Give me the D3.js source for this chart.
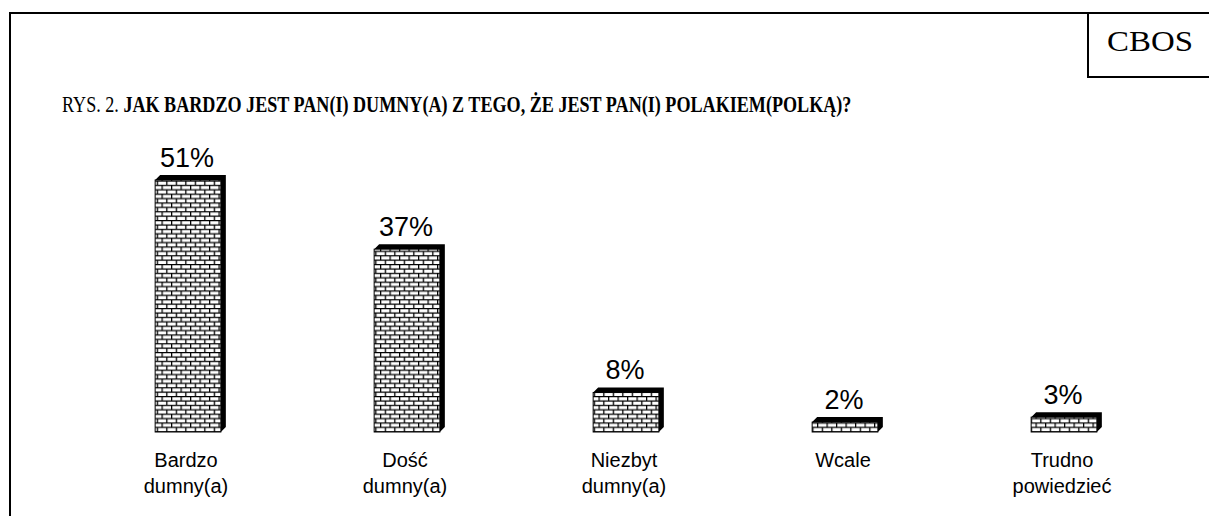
<!DOCTYPE html>
<html>
<head>
<meta charset="utf-8">
<script src="https://cdn.jsdelivr.net/npm/d3@7"></script>
<style>
  html, body { margin: 0; padding: 0; background: #fff; }
  svg { display: block; }
</style>
</head>
<body>
<svg id="chart" width="1209" height="516"></svg>
<script>
const categories = [['Bardzo', 'dumny(a)'], ['Dość', 'dumny(a)'], ['Niezbyt', 'dumny(a)'], ['Wcale'], ['Trudno', 'powiedzieć']];
const values = [51, 37, 8, 2, 3];
const valueLabels = ['51%', '37%', '8%', '2%', '3%'];
const titlePrefix = 'RYS. 2. ';
const titleBold = 'JAK BARDZO JEST PAN(I) DUMNY(A) Z TEGO, ŻE JEST PAN(I) POLAKIEM(POLKĄ)?';

const svg = d3.select('#chart');
const W = 1209;
const depth = 5;
const base = 432;

// brick pattern for the bar faces
const pat = svg.append('defs').append('pattern')
  .attr('id', 'bricks')
  .attr('patternUnits', 'userSpaceOnUse')
  .attr('width', 9.5).attr('height', 8.8);
pat.append('rect').attr('width', 9.5).attr('height', 8.8).attr('fill', '#fff');
pat.append('path')
  .attr('d', 'M0,0.6H9.5M0,5H9.5M0.6,0V4.4M5.35,4.4V8.8')
  .attr('stroke', '#000').attr('stroke-width', 1.3);

// frame and CBOS box
svg.append('path').attr('d', `M10,516V13H${W}`).attr('fill', 'none')
  .attr('stroke', '#000').attr('stroke-width', 2);
svg.append('path').attr('d', `M1088,13V77H${W}`).attr('fill', 'none')
  .attr('stroke', '#000').attr('stroke-width', 2);

function squeezed(x, y, width, build) {
  const g = svg.append('g');
  const t = build(g.append('text'));
  const w = t.node().getComputedTextLength();
  g.attr('transform', `translate(${x},${y}) scale(${width / w},1)`);
}

squeezed(1107, 51, 86, t => t.attr('font-family', 'Liberation Serif, Times New Roman, serif')
  .attr('font-size', 30).text('CBOS'));

squeezed(62, 112, 790, t => {
  t.attr('font-family', 'Liberation Serif, Times New Roman, serif').attr('font-size', 23);
  t.append('tspan').text(titlePrefix);
  t.append('tspan').attr('font-weight', 'bold').text(titleBold);
  return t;
});

const x = d3.scaleBand().domain(d3.range(categories.length)).range([78.5, 1173.5]).paddingInner(0.7).paddingOuter(0.35);
const y = d3.scaleLinear().domain([0, 51]).range([base, 180]);

const bars = svg.selectAll('.bar').data(values).join('g').attr('class', 'bar');

bars.append('path')
  .attr('d', (d, i) => {
    const x0 = x(i), x1 = x(i) + x.bandwidth(), t = y(d);
    return `M${x0},${t}L${x0 + depth},${t - depth}H${x1 + depth}V${base - depth}L${x1},${base}V${t}Z`;
  })
  .attr('fill', '#000');

bars.append('rect')
  .attr('x', (d, i) => x(i))
  .attr('y', d => y(d))
  .attr('width', x.bandwidth())
  .attr('height', d => base - y(d))
  .attr('fill', 'url(#bricks)')
  .attr('stroke', '#000').attr('stroke-width', 1);

bars.append('text')
  .attr('x', (d, i) => x(i) + x.bandwidth() / 2 - 1)
  .attr('y', d => y(d) - 13)
  .attr('text-anchor', 'middle')
  .attr('font-family', 'Liberation Sans, Arial, sans-serif')
  .attr('font-size', 27)
  .text((d, i) => valueLabels[i]);

const labels = svg.selectAll('.cat').data(categories).join('text')
  .attr('class', 'cat')
  .attr('text-anchor', 'middle')
  .attr('font-family', 'Liberation Sans, Arial, sans-serif')
  .attr('font-size', 20);
labels.selectAll('tspan').data(d => d).join('tspan')
  .attr('x', function () {
    const i = categories.indexOf(d3.select(this.parentNode).datum());
    return x(i) + x.bandwidth() / 2 - 2;
  })
  .attr('y', (d, j) => 467 + j * 26)
  .text(d => d);
</script>
</body>
</html>
